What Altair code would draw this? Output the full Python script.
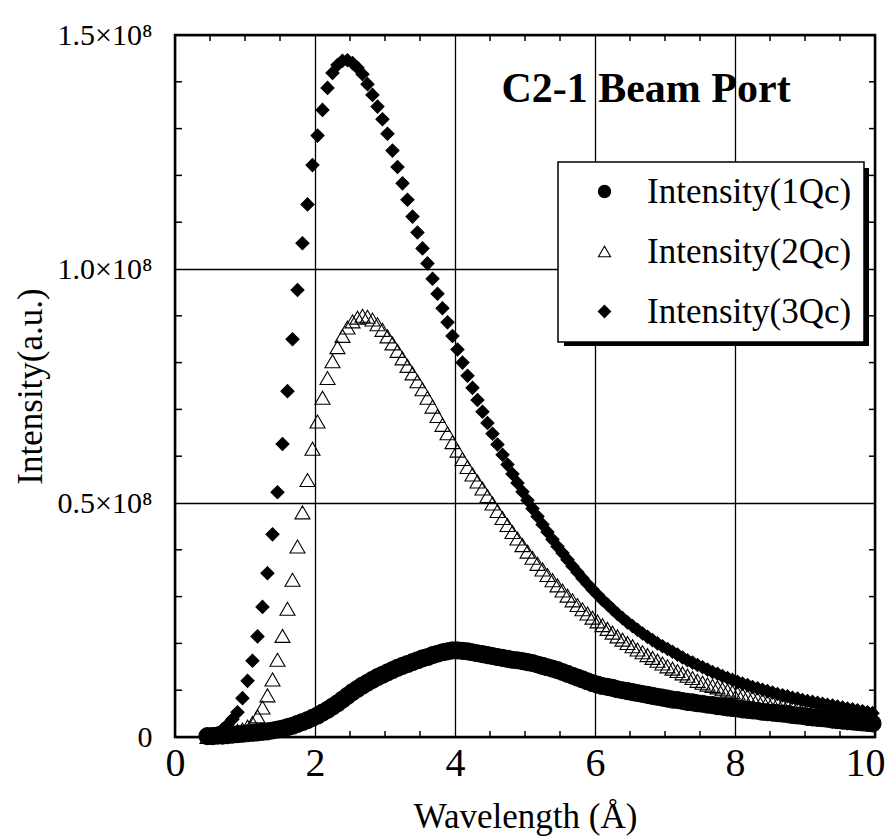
import altair as alt
import pandas as pd

# ---------------- data ----------------
WAVELENGTH = [
    0.464, 0.536, 0.607, 0.679, 0.750, 0.821, 0.893, 0.964, 1.036, 1.107,
    1.179, 1.250, 1.321, 1.393, 1.464, 1.536, 1.607, 1.679, 1.750, 1.821,
    1.893, 1.964, 2.036, 2.107, 2.179, 2.250, 2.321, 2.393, 2.464, 2.536,
    2.607, 2.679, 2.750, 2.821, 2.893, 2.964, 3.036, 3.107, 3.179, 3.250,
    3.321, 3.393, 3.464, 3.536, 3.607, 3.679, 3.750, 3.821, 3.893, 3.964,
    4.036, 4.107, 4.179, 4.250, 4.321, 4.393, 4.464, 4.536, 4.607, 4.679,
    4.750, 4.821, 4.893, 4.964, 5.036, 5.107, 5.179, 5.250, 5.321, 5.393,
    5.464, 5.536, 5.607, 5.679, 5.750, 5.821, 5.893, 5.964, 6.036, 6.107,
    6.179, 6.250, 6.321, 6.393, 6.464, 6.536, 6.607, 6.679, 6.750, 6.821,
    6.893, 6.964, 7.036, 7.107, 7.179, 7.250, 7.321, 7.393, 7.464, 7.536,
    7.607, 7.679, 7.750, 7.821, 7.893, 7.964, 8.036, 8.107, 8.179, 8.250,
    8.321, 8.393, 8.464, 8.536, 8.607, 8.679, 8.750, 8.821, 8.893, 8.964,
    9.036, 9.107, 9.179, 9.250, 9.321, 9.393, 9.464, 9.536, 9.607, 9.679,
    9.750, 9.821, 9.893, 9.964,
]

# intensities in units of 10^6 (a.u.)
I_1QC = [
    0.2, 0.2, 0.3, 0.3, 0.4, 0.5, 0.6, 0.7, 0.8, 0.9,
    1.0, 1.1, 1.2, 1.4, 1.6, 1.8, 2.1, 2.4, 2.8, 3.2,
    3.6, 4.1, 4.6, 5.2, 5.8, 6.5, 7.2, 8.0, 8.8, 9.6,
    10.3, 11.0, 11.6, 12.2, 12.8, 13.3, 13.8, 14.3, 14.8, 15.2,
    15.6, 16.0, 16.4, 16.8, 17.1, 17.5, 17.8, 18.1, 18.3, 18.5,
    18.5, 18.4, 18.3, 18.1, 17.9, 17.7, 17.5, 17.3, 17.1, 16.9,
    16.7, 16.5, 16.4, 16.2, 16.0, 15.8, 15.5, 15.2, 14.9, 14.6,
    14.3, 13.9, 13.5, 13.1, 12.7, 12.3, 11.9, 11.5, 11.2, 10.9,
    10.7, 10.5, 10.2, 10.0, 9.8, 9.6, 9.4, 9.2, 9.0, 8.8,
    8.6, 8.4, 8.2, 8.0, 7.9, 7.7, 7.5, 7.4, 7.2, 7.1,
    6.9, 6.8, 6.6, 6.5, 6.3, 6.2, 6.1, 5.9, 5.8, 5.7,
    5.6, 5.4, 5.3, 5.2, 5.1, 5.0, 4.9, 4.7, 4.6, 4.5,
    4.3, 4.2, 4.1, 4.0, 3.9, 3.7, 3.6, 3.5, 3.4, 3.3,
    3.2, 3.1, 3.0, 2.9,
]
I_2QC = [
    0.0, 0.1, 0.3, 0.5, 0.8, 1.0, 1.3, 1.6, 2.2, 3.0,
    4.4, 6.3, 8.9, 12.3, 16.5, 21.6, 27.4, 33.6, 40.7, 48.0,
    54.9, 61.6, 67.4, 72.5, 76.7, 80.3, 83.3, 85.7, 87.5, 88.8,
    89.6, 90.0, 89.8, 89.2, 88.2, 87.0, 85.6, 84.1, 82.5, 80.9,
    79.3, 77.7, 76.0, 74.3, 72.5, 70.6, 68.6, 66.7, 64.9, 63.0,
    61.2, 59.4, 57.7, 56.1, 54.6, 53.1, 51.5, 49.9, 48.3, 46.8,
    45.3, 43.8, 42.4, 41.0, 39.6, 38.3, 37.0, 35.8, 34.6, 33.5,
    32.4, 31.3, 30.2, 29.2, 28.2, 27.3, 26.4, 25.5, 24.7, 23.9,
    23.1, 22.3, 21.5, 20.8, 20.1, 19.4, 18.7, 18.1, 17.5, 16.9,
    16.3, 15.7, 15.1, 14.6, 14.1, 13.6, 13.1, 12.6, 12.0, 11.6,
    11.2, 10.9, 10.6, 10.2, 9.9, 9.6, 9.3, 9.0, 8.7, 8.4,
    8.1, 7.8, 7.5, 7.3, 7.1, 6.9, 6.7, 6.5, 6.3, 6.1,
    5.9, 5.7, 5.5, 5.3, 5.2, 5.0, 4.9, 4.7, 4.6, 4.4,
    4.3, 4.2, 4.0, 3.9,
]
I_3QC = [
    0.0, 0.3, 0.8, 1.6, 2.6, 3.8, 5.3, 8.3, 12.0, 16.3,
    21.5, 27.8, 35.0, 43.3, 52.3, 62.6, 73.9, 85.0, 95.5, 105.5,
    113.8, 122.2, 128.5, 134.0, 138.7, 141.9, 143.6, 144.5, 144.6, 144.0,
    143.0, 141.6, 139.5, 137.2, 134.7, 132.0, 128.9, 125.3, 121.8, 118.3,
    114.8, 111.2, 107.8, 104.4, 101.2, 97.9, 94.7, 91.6, 88.6, 85.7,
    82.8, 80.0, 77.2, 74.6, 72.0, 69.5, 67.1, 64.8, 62.5, 60.3,
    58.2, 56.2, 54.3, 52.4, 50.6, 48.8, 47.1, 45.4, 43.8, 42.2,
    40.7, 39.3, 37.9, 36.5, 35.2, 33.9, 32.7, 31.5, 30.4, 29.3,
    28.3, 27.3, 26.3, 25.4, 24.5, 23.7, 22.9, 22.1, 21.4, 20.7,
    20.0, 19.4, 18.8, 18.2, 17.6, 17.0, 16.4, 15.9, 15.4, 14.9,
    14.4, 13.9, 13.5, 13.0, 12.6, 12.2, 11.8, 11.4, 11.1, 10.7,
    10.4, 10.1, 9.8, 9.5, 9.2, 8.9, 8.7, 8.4, 8.2, 7.9,
    7.7, 7.5, 7.3, 7.1, 6.9, 6.7, 6.5, 6.3, 6.1, 5.9,
    5.7, 5.5, 5.3, 5.1,
]

SERIES = ["Intensity(1Qc)", "Intensity(2Qc)", "Intensity(3Qc)"]
X_LABELS = [0, 2, 4, 6, 8, 10]
X_MINOR = [0.5, 1.0, 1.5, 2.5, 3.0, 3.5, 4.5, 5.0, 5.5, 6.5, 7.0, 7.5,
           8.5, 9.0, 9.5]
Y_LABELS_M = [0, 50, 100, 150]
Y_MINOR_M = [10, 20, 30, 40, 60, 70, 80, 90, 110, 120, 130, 140]
PLOT_TITLE = "C2-1 Beam Port"

# ---------------- tables ----------------
rows = []
for name, vals in zip(SERIES, [I_1QC, I_2QC, I_3QC]):
    for w, v in zip(WAVELENGTH, vals):
        rows.append({"wavelength": w, "intensity": v * 1e6, "series": name})
df = pd.DataFrame(rows)
xt = pd.DataFrame({"wavelength": X_MINOR})
yt = pd.DataFrame({"intensity": [v * 1e6 for v in Y_MINOR_M]})

FONT = "Liberation Serif, Times New Roman, serif"
W, H = 700, 702

x_enc = alt.X(
    "wavelength:Q",
    scale=alt.Scale(domain=[0, 10], nice=False, zero=False),
    axis=alt.Axis(
        values=X_LABELS, title="Wavelength (Å)", grid=True, gridColor="black",
        gridWidth=1.3, gridOpacity=1, ticks=False, tickSize=0, domain=False,
        labelFont=FONT, labelFontSize=40, labelColor="black", labelPadding=6,
        labelFlush=True, labelFlushOffset=10,
        titleFont=FONT, titleFontSize=35,
        titleFontWeight="normal", titleColor="black", titleY=90,
        titleBaseline="alphabetic",
    ),
)
y_enc = alt.Y(
    "intensity:Q",
    scale=alt.Scale(domain=[0, 1.5e8], nice=False, zero=False),
    axis=alt.Axis(
        values=[v * 1e6 for v in Y_LABELS_M], title="Intensity(a.u.)",
        grid=True, gridColor="black", gridWidth=1.3, gridOpacity=1,
        ticks=False, tickSize=0, domain=False,
        labelExpr="datum.value == 0 ? '0' : format(datum.value / 1e8, '.1f') + '×10⁸'",
        labelFont=FONT, labelFontSize=30, labelColor="black", labelPadding=23,
        labelFlush=False, titleFont=FONT, titleFontSize=35,
        titleFontWeight="normal", titleColor="black", titleAngle=270,
        titleX=-145, titleY=351, titleAlign="center", titleBaseline="middle",
    ),
)

legend_def = alt.Legend(title=None)
shape_enc = alt.Shape(
    "series:N",
    scale=alt.Scale(domain=SERIES, range=["circle", "triangle-up", "diamond"]),
    legend=legend_def,
)
fill_enc = alt.Fill(
    "series:N",
    scale=alt.Scale(domain=SERIES, range=["black", "transparent", "black"]),
    legend=legend_def,
)
stroke_enc = alt.Stroke(
    "series:N",
    scale=alt.Scale(domain=SERIES, range=["black", "black", "black"]),
    legend=legend_def,
)

base = alt.Chart(df)
sizes = {SERIES[0]: 290, SERIES[1]: 225, SERIES[2]: 170}
point_layers = []
for s in SERIES:
    point_layers.append(
        base.transform_filter(alt.datum.series == s)
        .mark_point(opacity=1, strokeWidth=1.1)
        .encode(
            x=x_enc, y=y_enc, shape=shape_enc, fill=fill_enc,
            stroke=stroke_enc, size=alt.value(sizes[s]),
        )
    )

tick_style = dict(color="black", strokeWidth=1.5)
x_bottom = alt.Chart(xt).mark_rule(**tick_style).encode(
    x=x_enc, y=alt.value(H), y2=alt.value(H - 6))
x_top = alt.Chart(xt).mark_rule(**tick_style).encode(
    x=x_enc, y=alt.value(0), y2=alt.value(6))
y_left = alt.Chart(yt).mark_rule(**tick_style).encode(
    y=y_enc, x=alt.value(0), x2=alt.value(7))
y_right = alt.Chart(yt).mark_rule(**tick_style).encode(
    y=y_enc, x=alt.value(W), x2=alt.value(W - 6))

# drop shadow of the legend box
shadow = alt.Chart(pd.DataFrame({"k": [0]})).mark_rect(color="black").encode(
    x=alt.value(389), x2=alt.value(694), y=alt.value(133), y2=alt.value(311))

title_text = alt.Chart(pd.DataFrame({"t": [PLOT_TITLE]})).mark_text(
    font=FONT, fontSize=42, fontWeight="bold", color="black",
    align="center", baseline="alphabetic",
).encode(x=alt.value(471), y=alt.value(67), text="t:N")

chart = alt.layer(
    x_bottom, x_top, y_left, y_right, shadow, *point_layers, title_text,
).properties(
    width=W, height=H,
    autosize=alt.AutoSizeParams(type="none"),
    padding={"left": 175, "top": 35, "right": 18, "bottom": 99},
    background="white",
).configure(
    font=FONT,
).configure_view(
    stroke="black", strokeWidth=2.5,
).configure_legend(
    orient="none", legendX=383, legendY=127, fillColor="white",
    strokeColor="black", strokeWidth=1.5, padding=12, symbolOffset=17,
    labelOffset=25, rowPadding=24, labelFont=FONT, labelFontSize=35,
    labelColor="black", labelLimit=400, symbolSize=150,
    symbolStrokeColor="black", symbolStrokeWidth=1.1,
)

chart.save("out.html", embed_options={"renderer": "svg", "actions": False})
